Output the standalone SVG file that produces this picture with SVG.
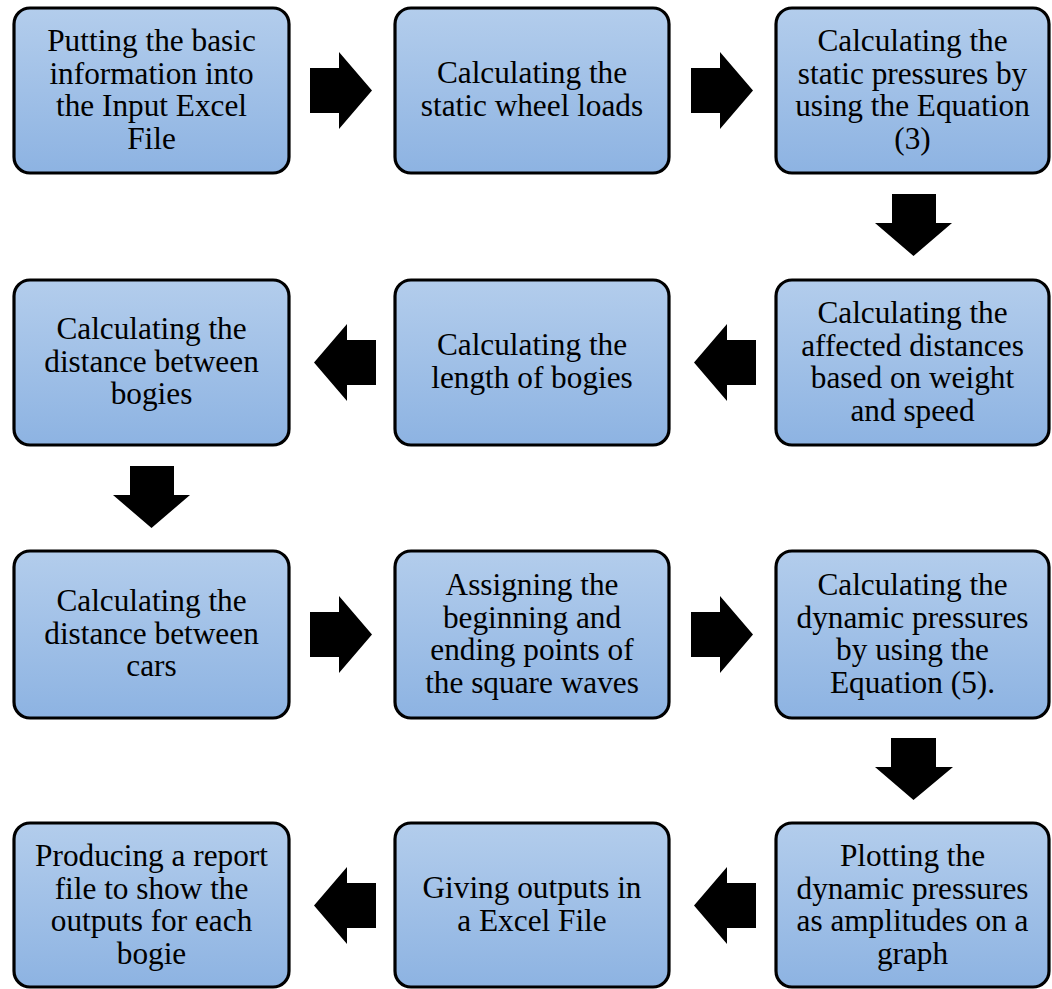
<svg xmlns="http://www.w3.org/2000/svg" width="1052" height="989" viewBox="0 0 1052 989">
<defs>
<linearGradient id="fill" x1="0" y1="0" x2="0" y2="1">
<stop offset="0" stop-color="#b3cdec"/>
<stop offset="1" stop-color="#8db3e2"/>
</linearGradient>
<style>
.box{fill:url(#fill);stroke:#000;stroke-width:3.2;}
.lbl{font-family:"Liberation Serif","Times New Roman",serif;font-size:32.5px;fill:#000;text-anchor:middle;}
.arr{fill:#000;}
</style>
</defs>
<rect x="0" y="0" width="1052" height="989" fill="#fff"/>
<g id="connectors">
<polygon class="arr" points="310,68 339,68 339,52 372,90.5 339,129 339,113 310,113"/>
<polygon class="arr" points="691,68 720,68 720,52 753,90.5 720,129 720,113 691,113"/>
<polygon class="arr" points="892,194 936,194 936,223 952,223 913.5,256 875,223 892,223"/>
<polygon class="arr" points="756,340 727,340 727,324 694,362.5 727,401 727,385 756,385"/>
<polygon class="arr" points="376,340 347,340 347,324 314,362.5 347,401 347,385 376,385"/>
<polygon class="arr" points="130,466 174,466 174,495 190,495 151.5,528 113,495 130,495"/>
<polygon class="arr" points="310,612 339,612 339,596 372,634.5 339,673 339,657 310,657"/>
<polygon class="arr" points="691,612 720,612 720,596 753,634.5 720,673 720,657 691,657"/>
<polygon class="arr" points="891,738 936,738 936,767 953,767 913.5,800 875,767 891,767"/>
<polygon class="arr" points="756,883 727,883 727,867 694,905.5 727,944 727,928 756,928"/>
<polygon class="arr" points="376,883 347,883 347,867 314,905.5 347,944 347,928 376,928"/>
</g>
<g id="n1">
<rect class="box" x="14" y="8" width="275" height="165" rx="16"/>
<g transform="translate(151.5,0) scale(0.963,1)"><text class="lbl"><tspan x="0" y="51.5">Putting the basic</tspan><tspan x="0" y="84">information into</tspan><tspan x="0" y="116.5">the Input Excel</tspan><tspan x="0" y="149">File</tspan></text></g>
</g>
<g id="n2">
<rect class="box" x="395" y="8" width="274" height="165" rx="16"/>
<g transform="translate(532,0) scale(0.963,1)"><text class="lbl"><tspan x="0" y="83.5">Calculating the</tspan><tspan x="0" y="116">static wheel loads</tspan></text></g>
</g>
<g id="n3">
<rect class="box" x="776" y="8" width="273" height="165" rx="16"/>
<g transform="translate(912.5,0) scale(0.963,1)"><text class="lbl"><tspan x="0" y="51.5">Calculating the</tspan><tspan x="0" y="84">static pressures by</tspan><tspan x="0" y="116.5">using the Equation</tspan><tspan x="0" y="149">(3)</tspan></text></g>
</g>
<g id="n4">
<rect class="box" x="776" y="280" width="273" height="165" rx="16"/>
<g transform="translate(912.5,0) scale(0.963,1)"><text class="lbl"><tspan x="0" y="323.5">Calculating the</tspan><tspan x="0" y="356">affected distances</tspan><tspan x="0" y="388.5">based on weight</tspan><tspan x="0" y="421">and speed</tspan></text></g>
</g>
<g id="n5">
<rect class="box" x="395" y="280" width="274" height="165" rx="16"/>
<g transform="translate(532,0) scale(0.963,1)"><text class="lbl"><tspan x="0" y="355.5">Calculating the</tspan><tspan x="0" y="388">length of bogies</tspan></text></g>
</g>
<g id="n6">
<rect class="box" x="14" y="280" width="275" height="165" rx="16"/>
<g transform="translate(151.5,0) scale(0.963,1)"><text class="lbl"><tspan x="0" y="339.5">Calculating the</tspan><tspan x="0" y="372">distance between</tspan><tspan x="0" y="404.5">bogies</tspan></text></g>
</g>
<g id="n7">
<rect class="box" x="14" y="551" width="275" height="167" rx="16"/>
<g transform="translate(151.5,0) scale(0.963,1)"><text class="lbl"><tspan x="0" y="611.5">Calculating the</tspan><tspan x="0" y="644">distance between</tspan><tspan x="0" y="676.5">cars</tspan></text></g>
</g>
<g id="n8">
<rect class="box" x="395" y="551" width="274" height="167" rx="16"/>
<g transform="translate(532,0) scale(0.963,1)"><text class="lbl"><tspan x="0" y="595.5">Assigning the</tspan><tspan x="0" y="628">beginning and</tspan><tspan x="0" y="660.5">ending points of</tspan><tspan x="0" y="693">the square waves</tspan></text></g>
</g>
<g id="n9">
<rect class="box" x="776" y="551" width="273" height="167" rx="16"/>
<g transform="translate(912.5,0) scale(0.963,1)"><text class="lbl"><tspan x="0" y="595.5">Calculating the</tspan><tspan x="0" y="628">dynamic pressures</tspan><tspan x="0" y="660.5">by using the</tspan><tspan x="0" y="693">Equation (5).</tspan></text></g>
</g>
<g id="n10">
<rect class="box" x="776" y="823" width="273" height="164" rx="16"/>
<g transform="translate(912.5,0) scale(0.963,1)"><text class="lbl"><tspan x="0" y="866.5">Plotting the</tspan><tspan x="0" y="899">dynamic pressures</tspan><tspan x="0" y="931.5">as amplitudes on a</tspan><tspan x="0" y="964">graph</tspan></text></g>
</g>
<g id="n11">
<rect class="box" x="395" y="823" width="274" height="164" rx="16"/>
<g transform="translate(532,0) scale(0.963,1)"><text class="lbl"><tspan x="0" y="898.5">Giving outputs in</tspan><tspan x="0" y="931">a Excel File</tspan></text></g>
</g>
<g id="n12">
<rect class="box" x="14" y="823" width="275" height="164" rx="16"/>
<g transform="translate(151.5,0) scale(0.963,1)"><text class="lbl"><tspan x="0" y="866.5">Producing a report</tspan><tspan x="0" y="899">file to show the</tspan><tspan x="0" y="931.5">outputs for each</tspan><tspan x="0" y="964">bogie</tspan></text></g>
</g>
</svg>
